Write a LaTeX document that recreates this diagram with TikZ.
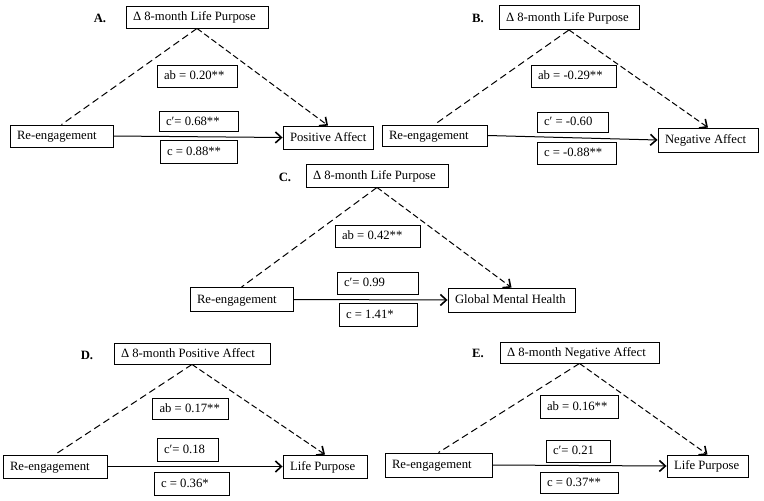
\documentclass[tikz,border=0pt]{standalone}
\usepackage{fontspec}
\setmainfont{Liberation Serif}
\usetikzlibrary{arrows.meta}
\newcommand\fs{\fontsize{12.7}{15}\selectfont}
\newcommand\bt[2]{\makebox[#1][l]{#2}}
\tikzset{
  bx/.style={draw, line width=0.9pt, inner xsep=7pt, inner ysep=0pt, text height=9pt, text depth=2pt, font=\fs},
  dsh/.style={line width=1pt, dash pattern=on 7pt off 4pt},
  dsha/.style={line width=1pt, dash pattern=on 6pt off 3pt, -{Straight Barb[length=6pt,width=11pt,line width=1.6pt]}},
  arr/.style={line width=1pt, -{Straight Barb[length=6pt,width=11pt,line width=1.6pt]}},
  lbl/.style={font=\fs\bfseries, inner sep=0pt}
}
\begin{document}
\begin{tikzpicture}[x=1pt,y=-1pt]
\useasboundingbox (0,0) rectangle (764,501);
% Panel A
\node[lbl] (labA) at (100,18) {A.};
\node[bx, minimum height=22pt] (topA) at (197,17) {\bt{128pt}{Δ 8-month Life Purpose}};
\node[bx, minimum height=22pt] (abA) at (197,76) {\bt{66pt}{ab = 0.20**}};
\node[bx, minimum height=20pt] (cpA) at (198.5,121.5) {\bt{65pt}{c′= 0.68**}};
\node[bx, minimum height=22pt] (reA) at (61.5,136) {\bt{89pt}{Re-engagement}};
\node[bx, minimum height=23pt] (paA) at (328,137.5) {\bt{76pt}{Positive Affect}};
\node[bx, minimum height=23pt] (cA) at (198.5,151.5) {\bt{63pt}{c = 0.88**}};
\draw[dsh] (topA.south) -- (reA.north);
\draw[dsha] (topA.south) -- (paA.north);
\draw[arr] (reA.east) -- (paA.west);
% Panel B
\node[lbl] (labB) at (478,18) {B.};
\node[bx, minimum height=24pt] (topB) at (569,17.5) {\bt{126pt}{Δ 8-month Life Purpose}};
\node[bx, minimum height=22pt] (abB) at (573.5,76) {\bt{71pt}{ab = -0.29**}};
\node[bx, minimum height=20pt] (cpB) at (572.5,122) {\bt{57pt}{c′ = -0.60}};
\node[bx, minimum height=21pt] (reB) at (434.5,135.5) {\bt{91pt}{Re-engagement}};
\node[bx, minimum height=24pt] (naB) at (708,140) {\bt{86pt}{Negative Affect}};
\node[bx, minimum height=22pt] (cB) at (576.5,153) {\bt{65pt}{c = -0.88**}};
\draw[dsh] (topB.south) -- (reB.north);
\draw[dsha] (topB.south) -- (naB.north);
\draw[arr] (reB.east) -- (naB.west);
% Panel C
\node[lbl] (labC) at (285,177) {C.};
\node[bx, minimum height=23pt] (topC) at (377,175.5) {\bt{128pt}{Δ 8-month Life Purpose}};
\node[bx, minimum height=22pt] (abC) at (377.5,236) {\bt{71pt}{ab = 0.42**}};
\node[bx, minimum height=22pt] (cpC) at (377.5,283) {\bt{67pt}{c′= 0.99}};
\node[bx, minimum height=24pt] (reC) at (241.5,299.5) {\bt{89pt}{Re-engagement}};
\node[bx, minimum height=24pt] (gmC) at (511.5,300) {\bt{113pt}{Global Mental Health}};
\node[bx, minimum height=23pt] (cC) at (378,314.5) {\bt{64pt}{c = 1.41*}};
\draw[dsh] (topC.south) -- (reC.north);
\draw[dsha] (topC.south) -- (gmC.north);
\draw[arr] (reC.east) -- (gmC.west);
% Panel D
\node[lbl] (labD) at (87,355) {D.};
\node[bx, minimum height=21pt] (topD) at (192,353.5) {\bt{142pt}{Δ 8-month Positive Affect}};
\node[bx, minimum height=21pt] (abD) at (190.5,408.5) {\bt{62pt}{ab = 0.17**}};
\node[bx, minimum height=23pt] (cpD) at (187.5,449.5) {\bt{47pt}{c′= 0.18}};
\node[bx, minimum height=23pt] (reD) at (55,466.5) {\bt{90pt}{Re-engagement}};
\node[bx, minimum height=23pt] (lpD) at (325,466.5) {\bt{70pt}{Life Purpose}};
\node[bx, minimum height=23pt] (cD) at (191.5,483.5) {\bt{61pt}{c = 0.36*}};
\draw[dsh] (topD.south) -- (reD.north);
\draw[dsha] (topD.south) -- (lpD.north);
\draw[arr] (reD.east) -- (lpD.west);
% Panel E
\node[lbl] (labE) at (478,353) {E.};
\node[bx, minimum height=21pt] (topE) at (579.5,352.5) {\bt{145pt}{Δ 8-month Negative Affect}};
\node[bx, minimum height=23pt] (abE) at (579,406.5) {\bt{64pt}{ab = 0.16**}};
\node[bx, minimum height=22pt] (cpE) at (578,451) {\bt{50pt}{c′= 0.21}};
\node[bx, minimum height=24pt] (reE) at (438.5,465) {\bt{93pt}{Re-engagement}};
\node[bx, minimum height=22pt] (lpE) at (707.5,466) {\bt{67pt}{Life Purpose}};
\node[bx, minimum height=21pt] (cE) at (579,482.5) {\bt{64pt}{c = 0.37**}};
\draw[dsh] (topE.south) -- (reE.north);
\draw[dsha] (topE.south) -- (lpE.north);
\draw[arr] (reE.east) -- (lpE.west);
\end{tikzpicture}
\end{document}
